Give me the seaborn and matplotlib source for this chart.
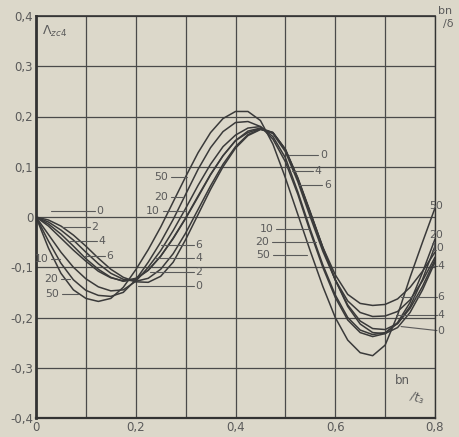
import matplotlib
matplotlib.use("Agg")
import matplotlib.pyplot as plt
import seaborn as sns
import pandas as pd

# ---- data ----
x_vals = [0, .025, .05, .075, .1, .125, .15, .175, .2, .225, .25, .275, .3, .325, .35, .375,
          .4, .425, .45, .475, .5, .525, .55, .575, .6, .625, .65, .675, .7, .725, .75, .775, .8]

curve_0 = [0, -0.006, -0.018, -0.036, -0.058, -0.082, -0.104, -0.12, -0.129, -0.13, -0.118, -0.09,
           -0.045, 0.005, 0.055, 0.1, 0.137, 0.162, 0.174, 0.168, 0.135, 0.078, 0.01, -0.06, -0.125,
           -0.178, -0.213, -0.23, -0.232, -0.22, -0.19, -0.145, -0.09]
curve_2 = [0, -0.01, -0.026, -0.046, -0.07, -0.093, -0.112, -0.124, -0.128, -0.122, -0.104, -0.073,
           -0.032, 0.015, 0.062, 0.105, 0.14, 0.164, 0.175, 0.168, 0.134, 0.076, 0.008, -0.062, -0.125,
           -0.175, -0.207, -0.222, -0.224, -0.212, -0.182, -0.138, -0.085]
curve_4 = [0, -0.014, -0.034, -0.058, -0.083, -0.104, -0.12, -0.128, -0.124, -0.106, -0.078, -0.042,
           -0.002, 0.042, 0.085, 0.122, 0.152, 0.168, 0.176, 0.166, 0.13, 0.07, 0.0, -0.068, -0.125,
           -0.167, -0.19, -0.198, -0.197, -0.188, -0.165, -0.127, -0.08]
curve_6 = [0, -0.018, -0.042, -0.066, -0.088, -0.108, -0.121, -0.127, -0.122, -0.106, -0.078, -0.043,
           -0.003, 0.04, 0.084, 0.122, 0.152, 0.171, 0.177, 0.168, 0.134, 0.076, 0.008, -0.06, -0.115,
           -0.154, -0.172, -0.176, -0.174, -0.163, -0.14, -0.108, -0.07]
curve_10 = [0, -0.035, -0.07, -0.1, -0.123, -0.139, -0.147, -0.145, -0.128, -0.1, -0.067, -0.027,
            0.017, 0.063, 0.105, 0.14, 0.163, 0.177, 0.18, 0.16, 0.118, 0.05, -0.025, -0.095, -0.155,
            -0.2, -0.225, -0.234, -0.23, -0.212, -0.178, -0.124, -0.058]
curve_20 = [0, -0.048, -0.092, -0.125, -0.146, -0.156, -0.158, -0.15, -0.125, -0.09, -0.05, -0.005,
            0.045, 0.095, 0.138, 0.17, 0.188, 0.19, 0.18, 0.155, 0.11, 0.045, -0.03, -0.1, -0.16,
            -0.205, -0.23, -0.238, -0.232, -0.21, -0.17, -0.11, -0.044]
curve_50 = [0, -0.062, -0.112, -0.145, -0.162, -0.168, -0.162, -0.14, -0.105, -0.065, -0.02, 0.03,
            0.08, 0.128, 0.168, 0.196, 0.21, 0.21, 0.192, 0.145, 0.078, 0.005, -0.068, -0.138, -0.2,
            -0.245, -0.27, -0.276, -0.255, -0.195, -0.12, -0.05, 0.018]

params = ["0", "2", "4", "6", "10", "20", "50"]
curves = [curve_0, curve_2, curve_4, curve_6, curve_10, curve_20, curve_50]

x_ticks = [0, 0.2, 0.4, 0.6, 0.8]
x_tick_labels = ["0", "0,2", "0,4", "0,6", "0,8"]
y_ticks = [0.4, 0.3, 0.2, 0.1, 0, -0.1, -0.2, -0.3, -0.4]
y_tick_labels = ["0,4", "0,3", "0,2", "0,1", "0", "-0,1", "-0,2", "-0,3", "-0,4"]

# curve labels: (text, text x, text y, leader start x, leader end x, leader end y)
labels = [
    ("0", 0.128, 0.012, 0.118, 0.030, None),
    ("2", 0.118, -0.020, 0.108, 0.052, None),
    ("4", 0.132, -0.048, 0.122, 0.068, None),
    ("6", 0.148, -0.078, 0.138, 0.098, None),
    ("10", 0.012, -0.084, 0.030, 0.048, None),
    ("20", 0.030, -0.124, 0.050, 0.068, None),
    ("50", 0.032, -0.154, 0.052, 0.084, None),
    ("6", 0.326, -0.056, 0.316, 0.250, None),
    ("4", 0.326, -0.082, 0.316, 0.240, None),
    ("2", 0.326, -0.110, 0.316, 0.228, None),
    ("0", 0.326, -0.138, 0.316, 0.205, None),
    ("50", 0.250, 0.080, 0.270, 0.302, None),
    ("20", 0.250, 0.040, 0.270, 0.294, None),
    ("10", 0.234, 0.012, 0.254, 0.298, None),
    ("0", 0.576, 0.124, 0.566, 0.508, None),
    ("4", 0.566, 0.092, 0.556, 0.514, None),
    ("6", 0.584, 0.064, 0.574, 0.528, None),
    ("10", 0.462, -0.024, 0.482, 0.548, None),
    ("20", 0.454, -0.050, 0.474, 0.562, None),
    ("50", 0.456, -0.076, 0.476, 0.544, None),
    ("50", 0.802, 0.022, None, None, None),
    ("20", 0.802, -0.036, None, None, None),
    ("10", 0.806, -0.062, None, None, None),
    ("4", 0.812, -0.098, 0.804, 0.796, None),
    ("6", 0.812, -0.160, 0.804, 0.732, None),
    ("4", 0.812, -0.196, 0.804, 0.722, None),
    ("0", 0.812, -0.226, 0.804, 0.732, -0.218),
]

# ---- build long table ----
rows = []
for p, ys in zip(params, curves):
    for xv, yv in zip(x_vals, ys):
        rows.append({"x": xv, "y": yv, "param": p})
df = pd.DataFrame(rows)

sns.set_theme(style="white")
bg = "#dcd8ca"
ink = "#3a3a3a"
txt = "#5a5a5a"
plt.rcParams["font.family"] = ["DejaVu Sans"]

fig = plt.figure(figsize=(4.59, 4.37), dpi=100, facecolor=bg)
ax = fig.add_axes([36 / 459, 19 / 437, 399 / 459, 402 / 437])
ax.set_facecolor(bg)

sns.lineplot(data=df, x="x", y="y", hue="param", palette={p: ink for p in params},
             estimator=None, legend=False, linewidth=1.1, ax=ax, sort=False)

ax.set_xlim(0, 0.8)
ax.set_ylim(-0.4, 0.4)
ax.set_xticks([i / 10 for i in range(9)])
ax.set_xticklabels(["0", "", "0,2", "", "0,4", "", "0,6", "", "0,8"])
ax.set_yticks(y_ticks)
ax.set_yticklabels(y_tick_labels)
ax.tick_params(length=0, labelsize=8.5, labelcolor=txt, pad=2)
ax.set_xlabel("")
ax.set_ylabel("")
ax.grid(True, color="#4a4a4a", linewidth=0.9)
for side, lw in [("left", 2.0), ("bottom", 1.6), ("top", 1.2), ("right", 1.0)]:
    ax.spines[side].set_visible(True)
    ax.spines[side].set_color("#333333")
    ax.spines[side].set_linewidth(lw)

for text, tx, ty, lx0, lx1, ly in labels:
    ax.text(tx, ty, text, fontsize=7.8, color=txt, ha="center", va="center", clip_on=False)
    if lx0 is not None:
        yy = ty if ly is None else ly
        ax.plot([lx0, lx1], [ty, yy], color=txt, linewidth=0.8, clip_on=False)

ax.text(0.012, 0.37, r"$\Lambda_{zc4}$", fontsize=9, color=txt, ha="left", va="center")
ax.text(0.735, -0.325, "bn", fontsize=8.5, color=txt, ha="center", va="center")
ax.text(0.765, -0.36, "/t₃", fontsize=8.5, color=txt, ha="center", va="center", rotation=-20)
fig.text(0.955, 0.975, "bn", fontsize=8, color=txt, ha="left", va="center")
fig.text(0.965, 0.945, "/δ", fontsize=8, color=txt, ha="left", va="center")

fig.savefig("out.png", dpi=100, facecolor=bg)
